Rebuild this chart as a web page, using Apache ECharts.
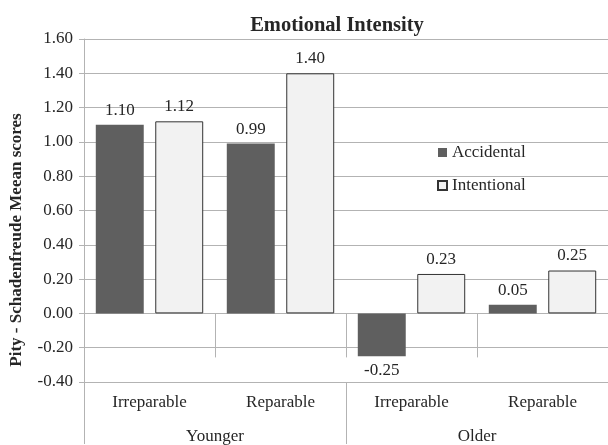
<!DOCTYPE html>
<html>
<head>
<meta charset="utf-8">
<script src="https://cdn.jsdelivr.net/npm/echarts@6/dist/echarts.min.js"></script>
<style>
  html, body { margin: 0; padding: 0; background: #fff; }
  #chart { width: 608px; height: 445px; }
</style>
</head>
<body>
<div id="chart"></div>
<script>
// data
var conditions = ['Irreparable', 'Reparable', 'Irreparable', 'Reparable'];
var ageGroups = ['Younger', 'Older'];
var accidental = [1.10, 0.99, -0.25, 0.05];
var intentional = [1.12, 1.40, 0.23, 0.25];

var FONT = '"Liberation Serif", "Times New Roman", serif';
var TEXT = '#262626';
var LINE = '#b3b3b3';

// negative bars get their label below the bar
function withLabels(values) {
    return values.map(function (v) {
        if (v < 0) return { value: v, label: { position: 'bottom' } };
        return v;
    });
}

var chart = echarts.init(document.getElementById('chart'));

chart.setOption({
    animation: false,
    textStyle: { fontFamily: FONT, color: TEXT },
    title: {
        text: 'Emotional Intensity',
        left: 332,
        textAlign: 'center',
        top: 10,
        textStyle: { fontFamily: FONT, fontSize: 20.5, fontWeight: 'bold', color: TEXT }
    },
    legend: {
        orient: 'vertical',
        left: 432,
        top: 139,
        itemWidth: 9,
        itemHeight: 9,
        itemGap: 16,
        icon: 'rect',
        textStyle: { fontFamily: FONT, fontSize: 17, color: TEXT, padding: [0, 0, 0, 0] },
        data: ['Accidental', 'Intentional']
    },
    grid: { left: 84, right: -4, top: 39, bottom: 62 },
    graphic: [{
        type: 'text',
        x: 17,
        y: 240,
        rotation: Math.PI / 2,
        style: {
            text: 'Pity - Schadenfreude Meean scores',
            font: 'bold 17px ' + FONT,
            fill: TEXT,
            align: 'center',
            verticalAlign: 'middle'
        }
    }],
    xAxis: [{
        type: 'category',
        data: conditions,
        position: 'bottom',
        axisLine: { show: true, lineStyle: { color: LINE } },
        axisTick: { show: true, interval: 0, length: 44, lineStyle: { color: LINE } },
        axisLabel: { interval: 0, margin: 12, fontFamily: FONT, fontSize: 17, color: TEXT }
    }, {
        type: 'category',
        data: ageGroups,
        position: 'bottom',
        axisLine: { show: true, lineStyle: { color: LINE } },
        axisTick: { show: true, interval: 0, length: 62, lineStyle: { color: LINE } },
        axisLabel: { interval: 0, margin: 46, fontFamily: FONT, fontSize: 17, color: TEXT }
    }],
    yAxis: {
        type: 'value',
        min: -0.4,
        max: 1.6,
        interval: 0.2,
        axisLine: { show: true, lineStyle: { color: LINE } },
        axisTick: { show: true, length: 5, lineStyle: { color: LINE } },
        splitLine: { lineStyle: { color: LINE } },
        axisLabel: {
            margin: 11,
            fontFamily: FONT,
            fontSize: 17,
            color: TEXT,
            formatter: function (v) { return v.toFixed(2); }
        }
    },
    series: [{
        name: 'Accidental',
        type: 'bar',
        xAxisIndex: 0,
        data: withLabels(accidental),
        barCategoryGap: '18%',
        barGap: '24%',
        itemStyle: { color: '#5f5f5f' },
        label: {
            show: true,
            position: 'top',
            distance: 6,
            fontFamily: FONT,
            fontSize: 17,
            color: TEXT,
            formatter: function (p) { return p.value.toFixed(2); }
        }
    }, {
        name: 'Intentional',
        type: 'bar',
        xAxisIndex: 0,
        data: withLabels(intentional),
        barCategoryGap: '18%',
        barGap: '24%',
        itemStyle: { color: '#f2f2f2', borderColor: '#333333', borderWidth: 1 },
        label: {
            show: true,
            position: 'top',
            distance: 6,
            fontFamily: FONT,
            fontSize: 17,
            color: TEXT,
            formatter: function (p) { return p.value.toFixed(2); }
        }
    }]
});
</script>
</body>
</html>
